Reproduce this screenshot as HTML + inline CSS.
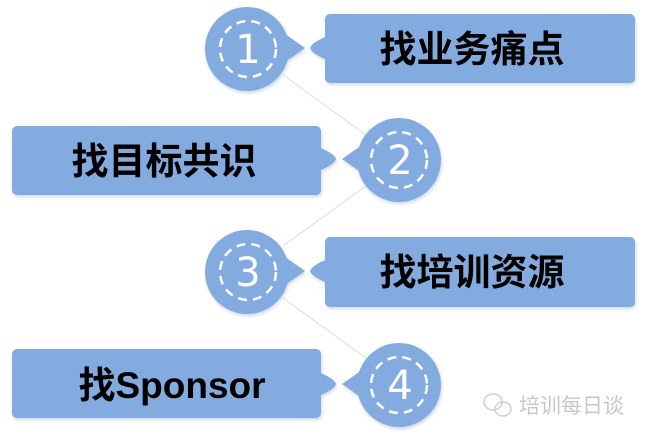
<!DOCTYPE html>
<html><head><meta charset="utf-8"><style>
body{margin:0;background:#fff;}
svg{display:block}
.t{font-family:"Liberation Sans","Noto Sans CJK SC",sans-serif;font-weight:bold;font-size:37px;fill:#000;}
.n{font-family:"DejaVu Sans","Liberation Sans",sans-serif;font-size:40px;fill:#fff;}
.w{font-family:"Liberation Sans","Noto Sans CJK SC",sans-serif;font-size:21px;fill:#c8c8c8;}
</style></head><body>
<svg width="648" height="446" viewBox="0 0 648 446">
<defs><filter id="s" x="-10%" y="-10%" width="120%" height="130%"><feDropShadow dx="1" dy="2" stdDeviation="1.5" flood-color="#9fb3d0" flood-opacity="0.5"/></filter></defs>
<g stroke="#e3e3e3" stroke-width="1.2">
<line x1="283" y1="75" x2="366" y2="135"/>
<line x1="366" y1="186" x2="283" y2="246"/>
<line x1="283" y1="298" x2="366" y2="358"/>
</g>
<g fill="#84abe0" filter="url(#s)">
<circle cx="247" cy="49" r="42"/>
<path d="M285 34 L305 48 L285 62 Z"/>
<rect x="325" y="14" width="310" height="69" rx="5"/>
<path d="M328 36 Q312 42 310 48 Q312 54 328 60 Z"/>
<circle cx="399" cy="160" r="42"/>
<path d="M362 145 L342 159 L362 173 Z"/>
<rect x="12" y="126" width="309" height="69" rx="5"/>
<path d="M318 147 Q334 153 336 159 Q334 165 318 171 Z"/>
<circle cx="247" cy="272" r="42"/>
<path d="M285 257 L305 271 L285 285 Z"/>
<rect x="325" y="237" width="310" height="70" rx="5"/>
<path d="M328 259 Q312 265 310 271 Q312 277 328 283 Z"/>
<circle cx="399" cy="385" r="42"/>
<path d="M362 370 L342 384 L362 398 Z"/>
<rect x="12" y="349" width="309" height="69" rx="5"/>
<path d="M318 372 Q334 378 336 384 Q334 390 318 396 Z"/>
</g>
<g fill="none" stroke="#fff" stroke-width="2.5" stroke-dasharray="9 6">
<circle cx="248" cy="49" r="28"/>
<circle cx="399" cy="160" r="28"/>
<circle cx="248" cy="272" r="28"/>
<circle cx="399" cy="385" r="28"/>
</g>
<g class="n" text-anchor="middle">
<text x="248" y="63">1</text>
<text x="400" y="174">2</text>
<text x="248" y="286">3</text>
<text x="400" y="399">4</text>
</g>
<g class="t" text-anchor="middle">
<text x="472" y="62">找业务痛点</text>
<text x="164" y="174">找目标共识</text>
<text x="472" y="285">找培训资源</text>
<text x="172" y="398">找Sponsor</text>
</g>
<g fill="none" stroke="#cfcfcf" stroke-width="1.5">
<ellipse cx="493" cy="402" rx="9" ry="8"/>
<ellipse cx="503" cy="409" rx="8" ry="7"/>
</g>
<text class="w" x="519" y="413">培训每日谈</text>
</svg>
</body></html>
